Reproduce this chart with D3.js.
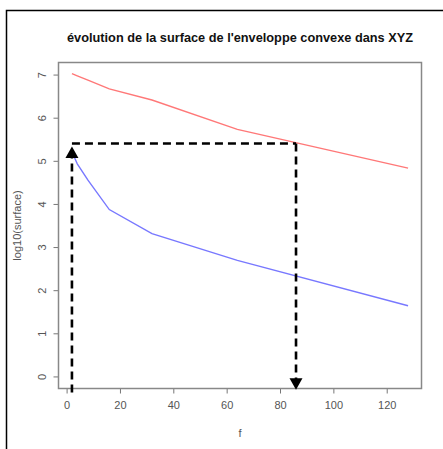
<!DOCTYPE html>
<html><head><meta charset="utf-8">
<script src="https://cdn.jsdelivr.net/npm/d3@7"></script>
<style>
html,body{margin:0;padding:0;background:#fff;}
svg{display:block;font-family:"Liberation Sans",Arial,sans-serif;}
</style></head>
<body>
<svg id="c" width="443" height="449"></svg>
<script>
// ---- data ----
const fValues = [2, 4, 8, 16, 32, 64, 128];
const redSeries = [7.02, 6.97, 6.87, 6.67, 6.41, 5.73, 4.83];
const blueSeries = [5.21, 4.93, 4.55, 3.87, 3.31, 2.69, 1.64];
const xTicks = [0, 20, 40, 60, 80, 100, 120];
const yTicks = [0, 1, 2, 3, 4, 5, 6, 7];
const arrowUp = {x0: 2, y0: -0.37, x1: 2, y1: 5.33};
const levelLine = {x0: 2, y0: 5.4, x1: 86, y1: 5.4};
const arrowDown = {x0: 86, y0: 5.4, x1: 86, y1: -0.31};
const titleText = "évolution de la surface de l'enveloppe convexe dans XYZ";
const xLabel = "f";
const yLabel = "log10(surface)";

// ---- layout ----
const svg = d3.select("#c");
const L = 58.5, R = 421.5, T = 62.5, B = 388.5;
const xExt = d3.extent(fValues), xPad = (xExt[1]-xExt[0])*0.04;
const x = d3.scaleLinear().domain([xExt[0]-xPad, xExt[1]+xPad]).range([L, R]);
const yPad = 7*0.04;
const y = d3.scaleLinear().domain([0-yPad, 7+yPad]).range([B, T]);

// outer frame
svg.append("path").attr("d", "M6.5,449 L6.5,10.5 L443,10.5")
  .attr("fill","none").attr("stroke","#000").attr("stroke-width",1.5);

// title
const title = svg.append("text").attr("x", (L+R)/2).attr("y", 42)
  .attr("text-anchor","middle").attr("font-weight","bold").attr("font-size",12)
  .attr("fill","#111").text(titleText);
const tw = title.node().getComputedTextLength();
title.attr("font-size", 12*346/tw);

// axes
const gx = svg.append("g").attr("transform",`translate(0,${B})`)
  .call(d3.axisBottom(x).tickValues(xTicks).tickSize(5).tickPadding(8));
gx.select(".domain").remove();
gx.selectAll("line").attr("stroke","#777");
gx.selectAll("text").attr("fill","#555").attr("font-size",11).attr("font-family","Liberation Sans, Arial, sans-serif");

const gy = svg.append("g").attr("transform",`translate(${L},0)`)
  .call(d3.axisLeft(y).tickValues(yTicks).tickSize(5).tickPadding(0));
gy.select(".domain").remove();
gy.selectAll("line").attr("stroke","#777");
gy.selectAll("text").attr("fill","#555").attr("font-size",11)
  .attr("font-family","Liberation Sans, Arial, sans-serif")
  .attr("text-anchor","middle").attr("x",0).attr("dy",0)
  .attr("transform","translate(-13,0) rotate(-90)");

// box
svg.append("rect").attr("x",L).attr("y",T).attr("width",R-L).attr("height",B-T)
  .attr("fill","none").attr("stroke","#888").attr("stroke-width",1.5);

// axis labels
svg.append("text").attr("x",(L+R)/2).attr("y",437).attr("text-anchor","middle")
  .attr("font-size",11).attr("fill","#555").text(xLabel);
svg.append("text").attr("transform",`translate(21,${(T+B)/2}) rotate(-90)`)
  .attr("text-anchor","middle").attr("font-size",11).attr("fill","#555").text(yLabel);

// series
const line = vals => d3.line().x((d,i)=>x(fValues[i])).y(d=>y(d))(vals);
svg.append("path").attr("d", line(redSeries)).attr("fill","none")
  .attr("stroke","#ff7878").attr("stroke-width",1.4);
svg.append("path").attr("d", line(blueSeries)).attr("fill","none")
  .attr("stroke","#7878ff").attr("stroke-width",1.4);

// dashed annotation
function seg(s){
  svg.append("line").attr("x1",x(s.x0)).attr("y1",y(s.y0)).attr("x2",x(s.x1)).attr("y2",y(s.y1))
    .attr("stroke","#000").attr("stroke-width",2.6).attr("stroke-dasharray","8,5");
}
function head(s, dir){
  const tx = x(s.x1), ty = y(s.y1), w = 6.5, h = 11.5;
  const by = ty + (dir==="up" ? h : -h);
  svg.append("path").attr("d",`M${tx},${ty} L${tx-w},${by} L${tx+w},${by} Z`).attr("fill","#000");
}
seg(levelLine);
seg(arrowUp); head(arrowUp,"up");
seg(arrowDown); head(arrowDown,"down");
</script>
</body></html>
